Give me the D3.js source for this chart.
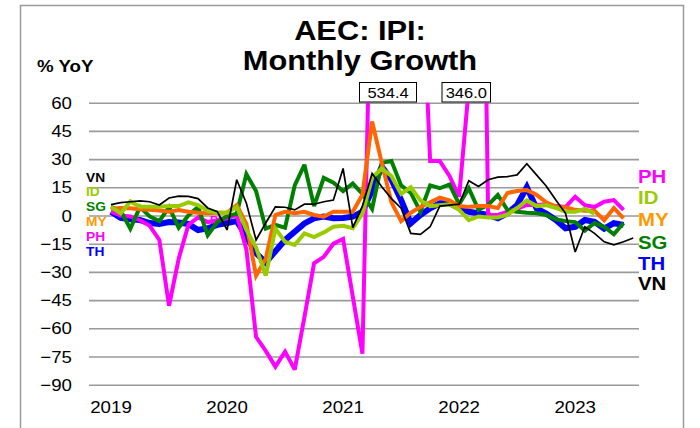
<!DOCTYPE html>
<html>
<head>
<meta charset="utf-8">
<script src="https://cdn.jsdelivr.net/npm/d3@7"></script>
<style>
  html, body { margin: 0; padding: 0; background: #fff; }
  svg { display: block; font-family: "Liberation Sans", Arial, sans-serif; }
</style>
</head>
<body>
<svg id="chart" width="700" height="428"></svg>
<script>
// Monthly year-on-year growth of industrial production, Jan 2019 onward (month index 0 = Jan 2019)
const yearLabels = ["2019", "2020", "2021", "2022", "2023"];
const yearStartIndex = [0, 12, 24, 36, 48];
const yTicks = [60, 45, 30, 15, 0, -15, -30, -45, -60, -75, -90];

const seriesPH = [2, 0, -0.5, -2.5, -5.5, -13, -48, -23, -5, -1, -3.5, -2.5, -1.5, 0.3, -18, -64.5, -72, -80.4, -72.4, -82, -54, -25.4, -22, -15, -12.5, -43, -73.5, 160, 534.4, 250, 180, 120, 150, 29, 29, 21, 10, 68, 346.0, 0.3, 0.3, 2, 3.5, 5.6, 5.6, 6, 5, 4.5, 10, 5.5, 4.5, 7.3, 8.2, 3];
const seriesTH = [2, -1.3, -2, -2.4, -4, -4.5, -3.5, -3.7, -4.5, -7.7, -6.8, -5, -4, -3, -11, -20, -25, -19, -13, -8.6, -4.2, -1.5, -0.6, -1.5, -1.3, -0.6, 2, 13.5, 26, 19, 8.2, -4.1, 0.3, 3.8, 6.5, 6.5, 4, 2, 1.2, 0.3, -1.5, 1.2, 5.6, 15, 3.8, 1, -2.4, -6.8, -6, -2.4, -3.4, -7, -4.1, -5];
const seriesSG = [4.6, 2.5, -7, 4.5, -0.5, -3, 4.5, -6.5, 0, 4.5, -10.5, -3.5, -0.5, 1, 22, 13, -7, -5, -6.5, 16, 27, 5, 20, 17.5, 13, 17, 11.5, 3.5, 28, 29, 16, 12, 2, 16, 14.5, 16.5, 6, 14.5, 3, 5.6, 10.9, 2.9, 2, 1.5, 1.2, 0.3, -2, -3, -3.5, -8, -4, -6, -10, -4];
const seriesMY = [3.5, 4, 3.8, 3.3, 3, 2.6, 2, 2.9, 2, 1.5, 1.2, 1.5, 1.5, 5.6, -4.5, -32, -23, 0.3, 2, 1.2, 2, 0.3, -0.6, 2, 2, 2, 11, 50, 28, 7, -3, 1.5, 4.5, 7, 9.5, 8, 5, 4.5, 5, 5, 4, 12, 13, 13.5, 11, 7, 4.7, 4.4, 3, 2.5, 2.5, -2.5, 4, -1.5];
const seriesID = [4.6, 1.2, 7.5, 4.6, 4.6, 4.6, 5, 5, 7, 5.5, 2.5, 1.5, 1.5, 4.6, -7.7, -17, -32, -7, -14, -15.7, -9.5, -11.5, -9, -6, -5.5, -6.8, 1, 20, 25, 21, 11.5, 15, 8, 5, 5.5, 6, 3, -2.5, -0.5, -1, -1, 0.5, 4, 8, 5, 5.5, 4, 2, 2, 3.5, 1];
const seriesVN = [5.8, 6.8, 7.3, 7.8, 7.3, 5.6, 9.3, 10.3, 10.2, 9, 4, 2, -7.7, 19, 6.5, -13, -4, 4.6, 4.4, 3, 6, 6, 7.3, 8.2, 25, -6.5, 5, 22.4, 15.3, 9, 3.9, -9.5, -10, -6, 5, 5.5, 6, 18.5, 15.4, 19, 20.4, 20.7, 21.6, 27.5, 21.6, 15.7, 8.2, 1.2, -19.4, -6, -9.5, -14, -15.6, -14, -12];

// Off-scale peaks called out in boxes
const calloutValues = [534.4, 346.0];

const seriesNames = ["TH", "PH", "SG", "MY", "ID", "VN"];
const seriesData = { TH: seriesTH, PH: seriesPH, SG: seriesSG, MY: seriesMY, ID: seriesID, VN: seriesVN };
const lineColor = { PH: "#FF00FF", ID: "#99CC00", SG: "#008000", MY: "#FF6600", TH: "#0000FF", VN: "#000000" };
const textColor = { PH: "#FF00FF", ID: "#99CC00", SG: "#008000", MY: "#FF9900", TH: "#0000FF", VN: "#000000" };
const lineWidth = { PH: 4, ID: 4, SG: 4, MY: 4, TH: 6, VN: 1.7 };

const leftLegend = ["VN", "ID", "SG", "MY", "PH", "TH"];
const rightLegend = ["PH", "ID", "MY", "SG", "TH", "VN"];

const svg = d3.select("#chart");
const SX = 1.1; // text is drawn slightly wide

const plot = { left: 89, right: 639, top: 102.7, bottom: 384.7 };
const x = d3.scaleLinear().domain([-2.275, 54.6]).range([plot.left, plot.right]);
const y = d3.scaleLinear().domain([-90, 60]).range([plot.bottom, plot.top]);

function label(g, tx, ty, str, opts) {
  return g.append("text")
    .attr("transform", `translate(${tx},${ty}) scale(${opts.sx || SX},1)`)
    .attr("text-anchor", opts.anchor || "start")
    .attr("font-size", opts.size)
    .attr("font-weight", opts.bold ? "bold" : "normal")
    .attr("fill", opts.fill || "#000")
    .text(str);
}

// outer frame
svg.append("rect").attr("x", 20.5).attr("y", 5.5).attr("width", 663).attr("height", 440)
  .attr("fill", "none").attr("stroke", "#9a9a9a").attr("stroke-width", 1.5);

// title
label(svg, 360, 40, "AEC: IPI:", { size: 28, bold: true, anchor: "middle" });
label(svg, 360, 70, "Monthly Growth", { size: 28, bold: true, anchor: "middle" });
label(svg, 37, 72, "% YoY", { size: 17, bold: true });

// gridlines + y tick labels
const yAxis = d3.axisLeft(y).tickValues(yTicks).tickSize(-(plot.right - plot.left)).tickFormat("");
const ga = svg.append("g").attr("transform", `translate(${plot.left},0)`).call(yAxis);
ga.select(".domain").remove();
ga.selectAll(".tick line").attr("stroke", "#9a9a9a").attr("stroke-width", 1.6);
yTicks.forEach(v => label(svg, 72, y(v) + 6, d3.format("d")(v), { size: 17, anchor: "end" }));

// x labels at January of each year
yearLabels.forEach((s, k) => label(svg, x(yearStartIndex[k]), 413, s, { size: 17, anchor: "middle" }));

// stray in-plot tag
label(svg, 210, 224, "PH", { size: 11.5, bold: true, fill: "#FF00FF", sx: 1.05 });

// series lines, clipped to the plot area
svg.append("clipPath").attr("id", "plotclip").append("rect")
  .attr("x", plot.left - 5).attr("y", plot.top).attr("width", plot.right - plot.left + 10).attr("height", plot.bottom - plot.top);
const lines = svg.append("g").attr("clip-path", "url(#plotclip)");
const lineGen = d3.line().x((d, i) => x(i)).y(d => y(d)).defined(d => d != null);
seriesNames.forEach(name => {
  lines.append("path").datum(seriesData[name])
    .attr("fill", "none").attr("stroke", lineColor[name]).attr("stroke-width", lineWidth[name])
    .attr("stroke-linejoin", "miter").attr("stroke-miterlimit", 3)
    .attr("d", lineGen);
});

// callout boxes for off-scale values
const boxX = [359, 441.5];
const boxW = [57, 48.5];
calloutValues.forEach((v, k) => {
  svg.append("rect").attr("x", boxX[k] + 0.5).attr("y", 82.5).attr("width", boxW[k]).attr("height", 19.5)
    .attr("fill", "#fff").attr("stroke", "#000").attr("stroke-width", 1);
  label(svg, boxX[k] + boxW[k] / 2 + 0.5, 98, d3.format(".1f")(v), { size: 15, anchor: "middle" });
});

// left legend
const leftY = [181.5, 196, 211, 226, 240.5, 255.5];
leftLegend.forEach((n, k) => label(svg, 86, leftY[k], n, { size: 12.5, bold: true, fill: textColor[n] }));

// right legend
const rightY = [183, 204, 226, 248.5, 269.5, 290];
rightLegend.forEach((n, k) => label(svg, 638, rightY[k], n, { size: 18.5, bold: true, fill: textColor[n] }));
</script>
</body>
</html>
